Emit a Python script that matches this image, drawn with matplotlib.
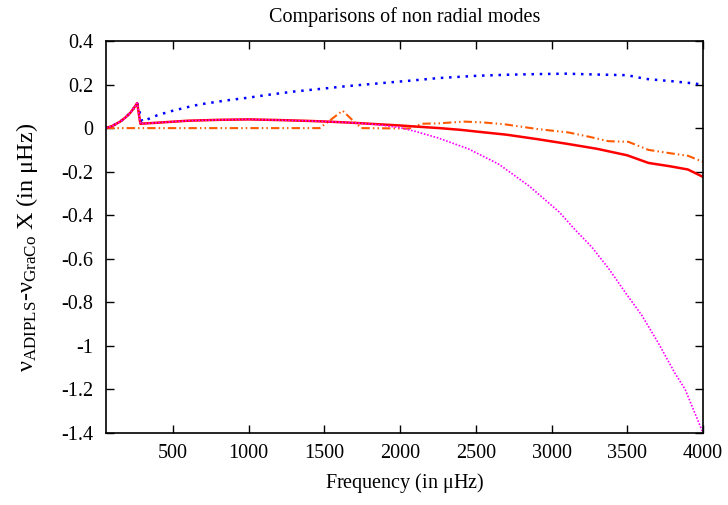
import matplotlib
matplotlib.use('Agg')
import matplotlib.pyplot as plt
from matplotlib.ticker import MultipleLocator, FormatStrFormatter

plt.rcParams['font.family'] = ['Liberation Serif', 'DejaVu Serif']
plt.rcParams['mathtext.fontset'] = 'custom'
plt.rcParams['mathtext.rm'] = 'Liberation Serif'
plt.rcParams['mathtext.it'] = 'Liberation Serif:italic'
plt.rcParams['axes.unicode_minus'] = False

# differences (frequency in muHz, difference in muHz)
freq_red = [58, 100, 152, 185, 218, 240, 264, 285, 400, 600, 800, 1000, 1200,
            1400, 1550, 1700, 1850, 2000, 2150, 2260, 2400, 2520, 2700, 2900,
            3110, 3300, 3500, 3640, 3780, 3900, 4000]
diff_red = [0, 0.01, 0.03, 0.048, 0.07, 0.09, 0.115, 0.02, 0.025, 0.034, 0.038,
            0.04, 0.037, 0.033, 0.029, 0.024, 0.018, 0.012, 0.005, 0.0, -0.008,
            -0.017, -0.03, -0.05, -0.073, -0.095, -0.125, -0.16, -0.175, -0.19,
            -0.224]

freq_magenta = [58, 100, 152, 185, 218, 240, 264, 285, 400, 600, 800, 1000, 1200,
                1400, 1550, 1700, 1850, 2000, 2100, 2250, 2450, 2650, 2850, 3050,
                3157, 3264, 3376, 3490, 3595, 3705, 3815, 3882, 4000]
diff_magenta = [0, 0.01, 0.03, 0.048, 0.07, 0.09, 0.115, 0.02, 0.025, 0.034,
                0.038, 0.04, 0.037, 0.033, 0.029, 0.024, 0.016, 0.002, -0.015,
                -0.045, -0.095, -0.165, -0.265, -0.385, -0.468, -0.545, -0.644,
                -0.758, -0.859, -0.987, -1.126, -1.2, -1.4]

freq_blue = [58, 100, 152, 185, 218, 240, 264, 297, 400, 500, 600, 678, 850,
             1000, 1119, 1300, 1500, 1652, 1900, 2100, 2257, 2500, 2700, 2900,
             3093, 3300, 3500, 3620, 3800, 3900, 4000]
diff_blue = [0, 0.01, 0.03, 0.048, 0.07, 0.09, 0.115, 0.03, 0.06, 0.08, 0.097,
             0.109, 0.127, 0.14, 0.152, 0.168, 0.182, 0.193, 0.208, 0.22, 0.23,
             0.24, 0.245, 0.248, 0.25, 0.246, 0.243, 0.226, 0.215, 0.208, 0.2]

freq_orange = [58, 1468, 1545, 1620, 1680, 1744, 2060, 2145, 2257, 2422, 2550,
               2685, 2915, 3112, 3250, 3375, 3507, 3640, 3780, 3900, 4000]
diff_orange = [0, 0, 0.04, 0.08, 0.04, 0, -0.002, 0.02, 0.022, 0.03, 0.026,
               0.018, -0.005, -0.02, -0.04, -0.06, -0.063, -0.1, -0.115, -0.127,
               -0.155]

fig = plt.figure(figsize=(7.28, 5.05), dpi=100)
ax = fig.add_axes([0.1456, 0.1426, 0.8201, 0.7762])

ax.plot(freq_blue, diff_blue, color='#0000ff', lw=1.8, dashes=(1, 2.3))
ax.plot(freq_orange, diff_orange, color='#ff5a00', lw=1.5,
        dashes=(4, 1.5, 0.7, 1.5, 0.7, 1.5))
ax.plot(freq_red, diff_red, color='#ff0000', lw=1.8)
ax.plot(freq_magenta, diff_magenta, color='#ff00ff', lw=1.2, dashes=(1, 1))

ax.set_xlim(58, 4000)
ax.set_ylim(-1.4, 0.4)
ax.xaxis.set_major_locator(MultipleLocator(500))
ax.yaxis.set_major_locator(MultipleLocator(0.2))
ax.yaxis.set_major_formatter(FormatStrFormatter('%g'))
ax.tick_params(direction='in', length=6, width=1, top=True, right=True,
               labelsize=14.5, pad=9)
ax.tick_params(axis='x', pad=8)
for sp in ax.spines.values():
    sp.set_linewidth(1.2)

ax.set_title('Comparisons of non radial modes', fontsize=14.5, pad=14)
ax.set_xlabel(r'Frequency (in $\mathrm{\mu}$Hz)', fontsize=14.5, labelpad=6)
ax.set_ylabel(r'ν$_{\mathrm{ADIPLS}}$-ν$_{\mathrm{GraCo}}$ X (in μHz)',
              fontsize=17.5)
ax.yaxis.set_label_coords(-0.11, 0.474)

fig.savefig('out.png', dpi=100)
